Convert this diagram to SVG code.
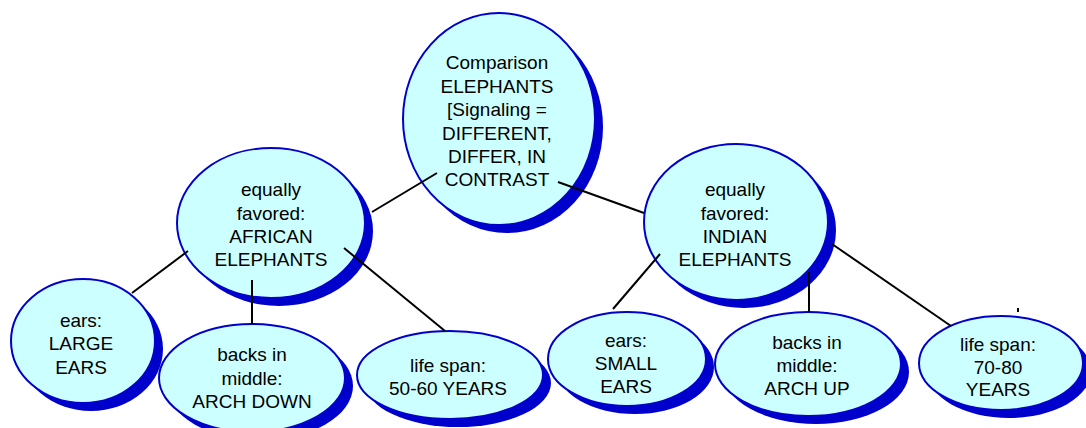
<svg xmlns="http://www.w3.org/2000/svg" width="1086" height="428" viewBox="0 0 1086 428">
<style>
.sh{fill:#0000cc;stroke:none}
.nd{fill:#ccffff;stroke:#0000cc;stroke-width:2}
text{font-family:"Liberation Sans",Arial,sans-serif;font-size:19px;fill:#000;text-anchor:middle}
.cn{stroke:#000;stroke-width:2;fill:none}
</style>
<rect width="1086" height="428" fill="#fff"/>
<g id="top">
<ellipse class="sh" cx="507" cy="127" rx="96" ry="106"/>
<ellipse class="nd" cx="499" cy="119" rx="96" ry="106"/>
<text x="497" y="69">Comparison</text>
<text x="497" y="92.5">ELEPHANTS</text>
<text x="497" y="116">[Signaling =</text>
<text x="497" y="139.5">DIFFERENT,</text>
<text x="497" y="163">DIFFER, IN</text>
<text x="497" y="186">CONTRAST</text>
</g>
<g id="african">
<ellipse class="sh" cx="279" cy="231" rx="94" ry="75"/>
<ellipse class="nd" cx="271" cy="223" rx="94" ry="75"/>
<text x="271" y="196">equally</text>
<text x="271" y="219.5">favored:</text>
<text x="271" y="243">AFRICAN</text>
<text x="271" y="266">ELEPHANTS</text>
</g>
<g id="indian">
<ellipse class="sh" cx="744" cy="230" rx="92" ry="78"/>
<ellipse class="nd" cx="736" cy="222" rx="92" ry="78"/>
<text x="735" y="196">equally</text>
<text x="735" y="219.5">favored:</text>
<text x="735" y="243">INDIAN</text>
<text x="735" y="266">ELEPHANTS</text>
</g>
<g id="ears-large">
<ellipse class="sh" cx="91" cy="349" rx="72" ry="62"/>
<ellipse class="nd" cx="83" cy="341" rx="72" ry="62"/>
<text x="81" y="327">ears:</text>
<text x="81" y="350">LARGE</text>
<text x="81" y="374">EARS</text>
</g>
<g id="backs-down">
<ellipse class="sh" cx="260" cy="386" rx="93" ry="54"/>
<ellipse class="nd" cx="252" cy="378" rx="93" ry="54"/>
<text x="252" y="361">backs in</text>
<text x="252" y="385">middle:</text>
<text x="252" y="408">ARCH DOWN</text>
</g>
<g id="life-50">
<ellipse class="sh" cx="458" cy="383" rx="93" ry="44"/>
<ellipse class="nd" cx="450" cy="375" rx="93" ry="44"/>
<text x="448" y="372">life span:</text>
<text x="448" y="395">50-60 YEARS</text>
</g>
<g id="ears-small">
<ellipse class="sh" cx="635" cy="367" rx="79" ry="47"/>
<ellipse class="nd" cx="627" cy="359" rx="79" ry="47"/>
<text x="626" y="347">ears:</text>
<text x="626" y="369.5">SMALL</text>
<text x="626" y="393">EARS</text>
</g>
<g id="backs-up">
<ellipse class="sh" cx="816" cy="372" rx="93" ry="52"/>
<ellipse class="nd" cx="808" cy="364" rx="93" ry="52"/>
<text x="807" y="349">backs in</text>
<text x="807" y="372">middle:</text>
<text x="807" y="395">ARCH UP</text>
</g>
<g id="life-70">
<ellipse class="sh" cx="1009" cy="371" rx="82" ry="47"/>
<ellipse class="nd" cx="1001" cy="363" rx="82" ry="47"/>
<text x="998" y="351">life span:</text>
<text x="998" y="374">70-80</text>
<text x="998" y="396">YEARS</text>
</g>
<g id="connectors">
<line class="cn" x1="437" y1="173" x2="372" y2="212"/>
<line class="cn" x1="558" y1="182" x2="644" y2="213"/>
<line class="cn" x1="188" y1="251" x2="132" y2="293"/>
<line class="cn" x1="252" y1="280" x2="252" y2="324"/>
<line class="cn" x1="344" y1="248" x2="445" y2="331"/>
<line class="cn" x1="660" y1="254" x2="613" y2="309"/>
<line class="cn" x1="809" y1="272" x2="809" y2="312"/>
<line class="cn" x1="832" y1="244" x2="951" y2="326"/>
<line class="cn" x1="1018" y1="308" x2="1018" y2="312"/>
</g>
</svg>
